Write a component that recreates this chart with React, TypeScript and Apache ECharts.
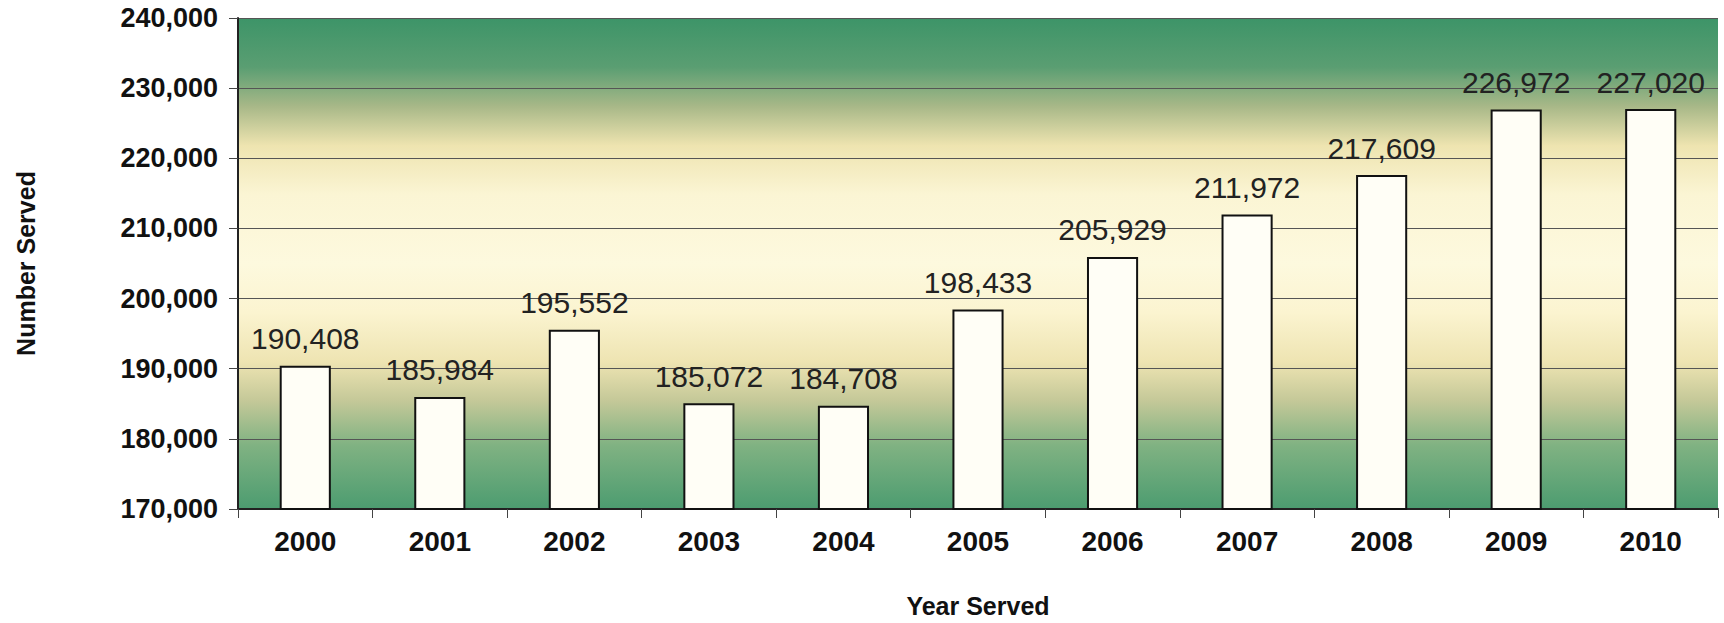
import React, { useEffect, useRef } from "react";
import * as echarts from "echarts";

const years = ["2000", "2001", "2002", "2003", "2004", "2005", "2006", "2007", "2008", "2009", "2010"];
const served = [190408, 185984, 195552, 185072, 184708, 198433, 205929, 211972, 217609, 226972, 227020];
const yMin = 170000;
const yMax = 240000;
const yStep = 10000;

const fmt = (v: number) => v.toLocaleString("en-US");
const FONT = "Liberation Sans, Arial, sans-serif";

export default function App() {
  const ref = useRef<HTMLDivElement>(null);
  useEffect(() => {
    document.body.style.margin = "0";
    if (!ref.current) return;
    const chart = echarts.init(ref.current, undefined, { renderer: "svg" });
    const bg = new echarts.graphic.LinearGradient(0, 0, 0, 1, [
      { offset: 0, color: "#3d9468" },
      { offset: 0.1, color: "#5a9e72" },
      { offset: 0.18, color: "#a8b888" },
      { offset: 0.26, color: "#eee4b0" },
      { offset: 0.36, color: "#fbf5d4" },
      { offset: 0.5, color: "#fdf9de" },
      { offset: 0.6, color: "#fbf4d0" },
      { offset: 0.7, color: "#eee4b2" },
      { offset: 0.78, color: "#c4c898" },
      { offset: 0.87, color: "#80b282" },
      { offset: 1, color: "#4c9c70" },
    ]);
    chart.setOption({
      animation: false,
      backgroundColor: "#ffffff",
      grid: {
        left: 238,
        right: 6,
        top: 18,
        bottom: 113,
        show: true,
        backgroundColor: bg,
        borderWidth: 0,
      },
      xAxis: {
        type: "category",
        data: years,
        name: "Year Served",
        nameLocation: "middle",
        nameGap: 84,
        nameTextStyle: { fontFamily: FONT, fontWeight: "bold", fontSize: 25, color: "#111" },
        axisLine: { show: true, lineStyle: { color: "#222", width: 2 } },
        axisTick: { show: true, inside: false, length: 9, alignWithLabel: false, lineStyle: { color: "#444", width: 1 } },
        axisLabel: { fontFamily: FONT, fontWeight: "bold", fontSize: 28, color: "#111", margin: 18 },
      },
      yAxis: {
        type: "value",
        min: yMin,
        max: yMax,
        interval: yStep,
        name: "Number Served",
        nameLocation: "middle",
        nameGap: 200,
        nameRotate: 90,
        nameTextStyle: { fontFamily: FONT, fontWeight: "bold", fontSize: 25, color: "#111" },
        axisLine: { show: true, lineStyle: { color: "#222", width: 2 } },
        axisTick: { show: true, length: 9, lineStyle: { color: "#444" } },
        axisLabel: {
          fontFamily: FONT,
          fontWeight: "bold",
          fontSize: 27,
          color: "#111",
          margin: 20,
          formatter: (v: number) => fmt(v),
        },
        splitLine: { show: true, lineStyle: { color: "#555", width: 1 } },
      },
      series: [
        {
          type: "bar",
          data: served,
          barWidth: "38%",
          itemStyle: { color: "#fffef6", borderColor: "#111", borderWidth: 2 },
          label: {
            show: true,
            position: "top",
            distance: 12,
            fontFamily: FONT,
            fontSize: 30,
            color: "#222",
            formatter: (p: any) => fmt(p.value),
          },
        },
      ],
    });
    return () => chart.dispose();
  }, []);
  return <div ref={ref} style={{ width: 1724, height: 623 }} />;
}
